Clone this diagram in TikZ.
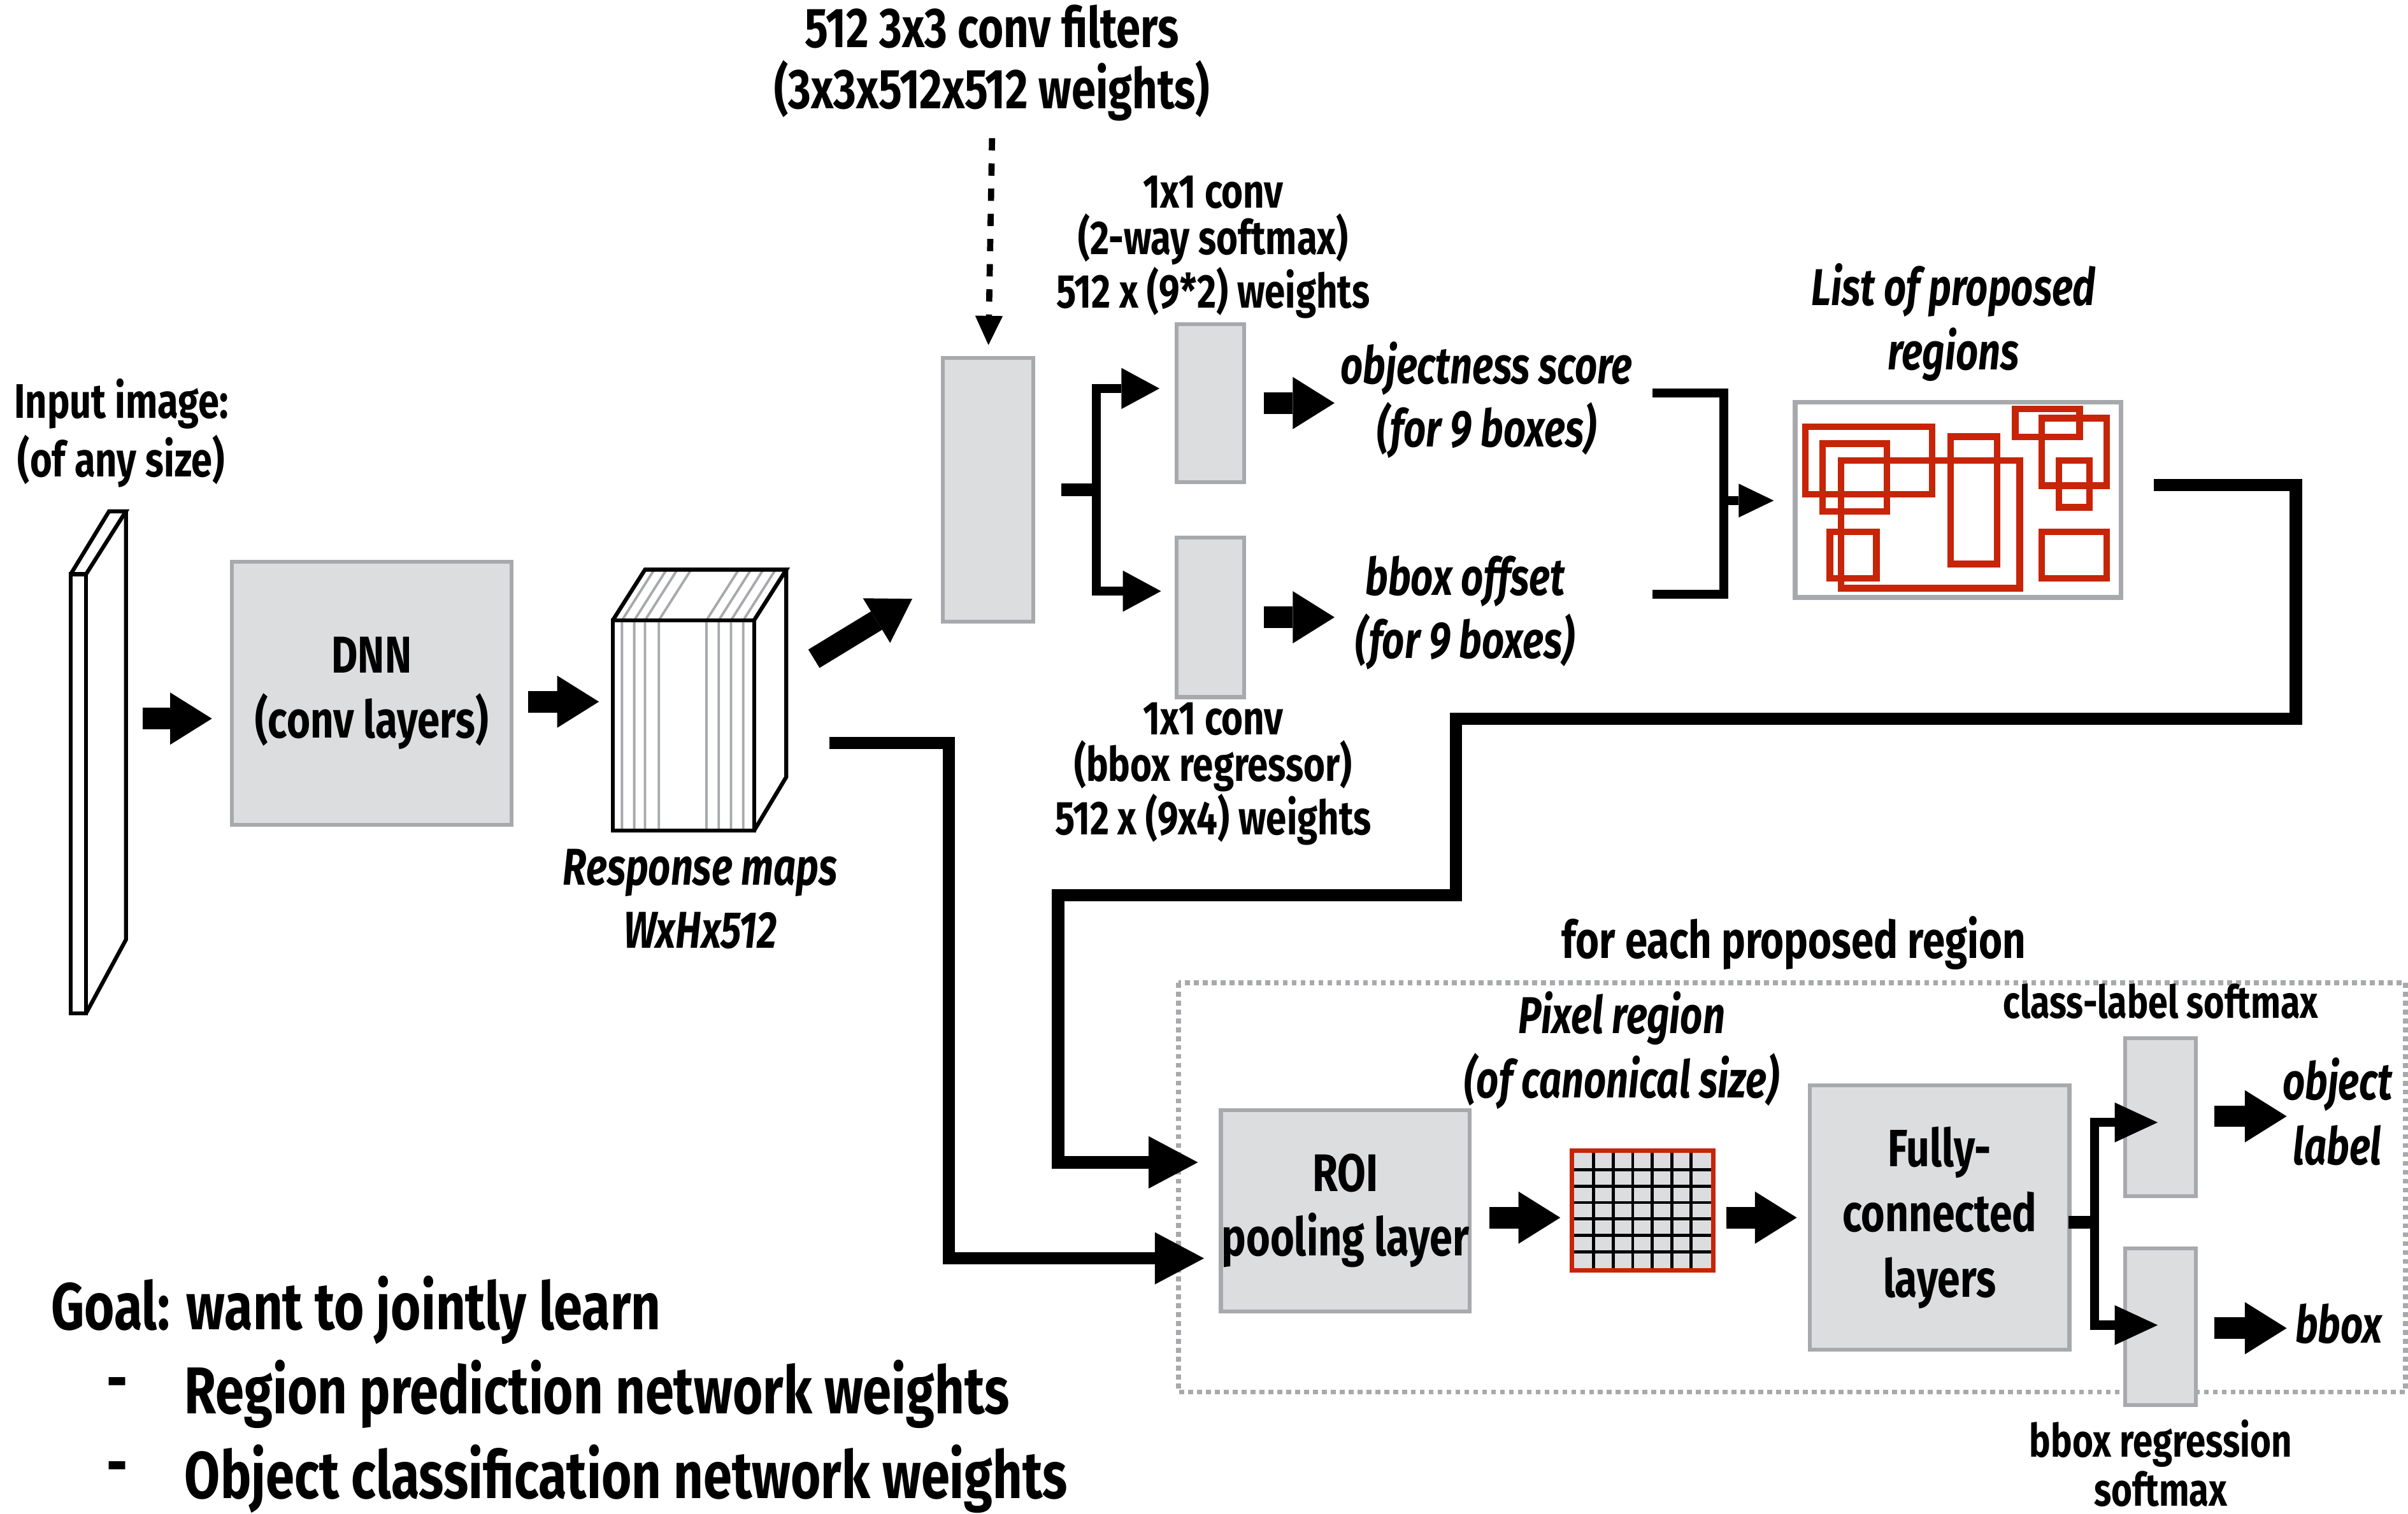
\documentclass[tikz,border=0pt]{standalone}
\usepackage{fontspec}
\setmainfont{Fira Sans}[UprightFont=* Bold, ItalicFont=* Bold Italic,
  UprightFeatures={FakeStretch=0.78}, ItalicFeatures={FakeStretch=0.755}]
\usetikzlibrary{arrows.meta}
\definecolor{boxfill}{RGB}{220,221,222}
\definecolor{boxline}{RGB}{167,169,172}
\definecolor{regred}{RGB}{199,36,8}
\newcommand{\fsz}[2]{\fontsize{#1}{#2}\selectfont}

\begin{document}
\begin{tikzpicture}[x=0.025cm,y=-0.025cm,
  gbox/.style={draw=boxline, fill=boxfill, line width=1.8pt, inner sep=0pt, align=center},
  bigarrow/.style={line width=0.35cm, -{Triangle[length=0.68cm,width=0.85cm,line width=0pt]}},
  thinarrow/.style={line width=0.15cm, -{Triangle[length=0.62cm,width=0.67cm,line width=0pt]}},
  tinyarrow/.style={line width=0.14cm, -{Triangle[length=0.57cm,width=0.55cm,line width=0pt]}},
  wirearrow/.style={line width=0.2cm, -{Triangle[length=0.8cm,width=0.85cm,line width=0pt]}},
  lbl/.style={align=center, inner sep=0pt},
  edge3d/.style={line width=0.065cm, line join=miter},
  slice/.style={draw=boxline, line width=0.04cm},
  regbox/.style={draw=regred, line width=0.108cm}
]
\useasboundingbox (0,0) rectangle (1568,986);

% ---------- input image slab ----------
\fill[white] (46,374) rectangle (56,660);
\fill[white] (46,374) -- (71,333) -- (82,333) -- (56,374) -- cycle;
\fill[white] (56,374) -- (82,333) -- (82,612) -- (56,660) -- cycle;
\draw[edge3d] (46,374) rectangle (56,660);
\draw[edge3d] (46,374) -- (71,333) -- (82,333) -- (56,374);
\draw[edge3d] (82,333) -- (82,612) -- (56,660);
\coordinate (img) at (64,496);
\node[lbl, font=\fsz{22.5}{27}] (tIn) at (79,282) {Input image:\\(of any size)};

% ---------- backbone ----------
\node[gbox, minimum width=4.55cm, minimum height=4.275cm, font=\fsz{24}{30}] (dnn) at (242,451.5) {DNN\\(conv layers)};
\coordinate (a1s) at (93,468);  \coordinate (a1e) at (138,468);
\draw[bigarrow] (a1s) -- (a1e);
\coordinate (a2s) at (344,457); \coordinate (a2e) at (390,457);
\draw[bigarrow] (a2s) -- (a2e);

% ---------- response maps cube ----------
\fill[white] (399,404) rectangle (491,541);
\fill[white] (399,404) -- (420,371) -- (512,371) -- (491,404) -- cycle;
\fill[white] (491,404) -- (512,371) -- (512,506) -- (491,541) -- cycle;
\foreach \x in {405,413,420,429,460,468,476,484}
  \draw[slice] (\x,541) -- (\x,404) -- ++(21,-33);
\draw[edge3d] (399,404) rectangle (491,541);
\draw[edge3d] (399,404) -- (420,371) -- (512,371) -- (491,404);
\draw[edge3d] (512,371) -- (512,506) -- (491,541);
\coordinate (cube) at (455,456);
\node[lbl, font=\fsz{24}{29}\itshape] (tResp) at (456,585.5) {Response maps\\WxHx512};

% ---------- region proposal network ----------
\node[lbl, font=\fsz{26}{28.5}] (tTop) at (646,41) {512 3x3 conv filters\\(3x3x512x512 weights)};
\node[gbox, minimum width=1.475cm, minimum height=4.3cm] (conv) at (643.5,319) {};
\draw[line width=0.1cm, dash pattern=on 0.2cm off 0.21cm,
      -{Triangle[length=0.475cm,width=0.45cm,line width=0pt]}, shorten >=0.175cm]
  (646,90) -- (conv.north);
\coordinate (a3s) at (530,429); \coordinate (a3e) at (594,390);
\draw[bigarrow] (a3s) -- (a3e);

\node[gbox, minimum width=1.1cm, minimum height=2.575cm] (s1) at (788,262.5) {};
\node[gbox, minimum width=1.1cm, minimum height=2.6cm] (s2) at (788,402) {};
\node[lbl, font=\fsz{22}{21.7}] (tRpn1) at (790,161) {1x1 conv\\(2-way softmax)\\512 x (9*2) weights};
\node[lbl, font=\fsz{22}{21.7}] (tRpn2) at (790,504) {1x1 conv\\(bbox regressor)\\512 x (9x4) weights};

% split from the 3x3 conv into the two 1x1 convs
\coordinate (split) at (714,319);
\draw[line width=0.2cm] (691,319) -- (split);
\draw[thinarrow] (split) |- (755,253);
\draw[thinarrow] (split) |- (756,385);

\coordinate (a4s) at (823,262.5); \coordinate (a4e) at (869,262.5);
\draw[bigarrow] (a4s) -- (a4e);
\coordinate (a5s) at (823,402); \coordinate (a5e) at (869,402);
\draw[bigarrow] (a5s) -- (a5e);
\node[lbl, font=\fsz{24}{29.2}\itshape] (tObj) at (968,260.5) {objectness score\\(for 9 boxes)};
\node[lbl, font=\fsz{24}{29.2}\itshape] (tOff) at (954,399) {bbox offset\\(for 9 boxes)};

% merge bracket
\draw[line width=0.15cm] (1076,256) -- (1122.5,256) -- (1122.5,387) -- (1076,387);
\draw[tinyarrow] (1122.5,326) -- (1155,326);

% ---------- proposed regions ----------
\node[lbl, font=\fsz{24}{30}\itshape] (tList) at (1272,210) {List of proposed\\regions};
\node[draw=boxline, fill=white, line width=2.2pt, minimum width=5.3cm, minimum height=3.175cm, inner sep=0pt] (regions) at (1275,325.5) {};
\draw[regbox] (1175.6,278) rectangle (1258.2,322);
\draw[regbox] (1186.8,289) rectangle (1228.7,333);
\draw[regbox] (1198.8,300) rectangle (1315.2,383);
\draw[regbox] (1270.2,284.4) rectangle (1300.4,367.3);
\draw[regbox] (1312.2,266.2) rectangle (1354.2,284.5);
\draw[regbox] (1329.5,272.3) rectangle (1371.7,316.3);
\draw[regbox] (1340.6,300) rectangle (1360.6,330.4);
\draw[regbox] (1329.5,346.3) rectangle (1371.7,376.6);
\draw[regbox] (1191.5,346.3) rectangle (1221.8,376.6);

% ---------- per-region classification stage ----------
\draw[boxline, line width=0.078cm, dash pattern=on 0.08cm off 0.065cm] (767.5,640) rectangle (1566.3,906.5);
\node[lbl, font=\fsz{24}{28}] (tFor) at (1168,614) {for each proposed region};

\node[gbox, minimum width=4.05cm, minimum height=3.275cm, font=\fsz{24.5}{30}] (roi) at (876,788.5) {ROI\\pooling layer};
\node[lbl, font=\fsz{24}{30}\itshape] (tPix) at (1056,684) {Pixel region\\(of canonical size)};

% pooled pixel grid
\coordinate (pix) at (1069.5,788.5);
\fill[boxfill] (1023.5,749.5) rectangle (1115.5,827.5);
\foreach \i in {1,...,6} {
  \draw[line width=0.05cm] ({1025+\i*12.71},751) -- ++(0,75);
  \draw[line width=0.05cm] (1025,{751+\i*10.71}) -- ++(89,0);
}
\draw[regred, line width=0.075cm] (1023.5,749.5) rectangle (1115.5,827.5);

\node[gbox, minimum width=4.225cm, minimum height=4.3cm, font=\fsz{24.3}{30.2}] (fc) at (1263,793) {Fully-\\connected\\layers};

\coordinate (a6s) at (970,793);  \coordinate (a6e) at (1016,793);
\draw[bigarrow] (a6s) -- (a6e);
\coordinate (a7s) at (1124,793); \coordinate (a7e) at (1170,793);
\draw[bigarrow] (a7s) -- (a7e);

\node[gbox, minimum width=1.15cm, minimum height=2.575cm] (c1) at (1407,727.5) {};
\node[gbox, minimum width=1.15cm, minimum height=2.55cm] (c2) at (1407,864) {};
\node[lbl, font=\fsz{21}{24}] (tCls) at (1407,652) {class-label softmax};
\node[lbl, font=\fsz{21.3}{22.8}] (tReg) at (1407,953) {bbox regression\\softmax};

\coordinate (fsplit) at (1364,796);
\draw[line width=0.2cm] (1347,796) -- (fsplit);
\draw[thinarrow, -{Triangle[length=0.7cm,width=0.65cm,line width=0pt]}] (fsplit) |- (1405,731);
\draw[thinarrow, -{Triangle[length=0.7cm,width=0.65cm,line width=0pt]}] (fsplit) |- (1405,863);

\coordinate (a8s) at (1442,727); \coordinate (a8e) at (1489,727);
\draw[bigarrow] (a8s) -- (a8e);
\coordinate (a9s) at (1442,865); \coordinate (a9e) at (1489,865);
\draw[bigarrow] (a9s) -- (a9e);
\node[lbl, font=\fsz{24}{30}\itshape] (tObjl) at (1522,724) {object\\label};
\node[lbl, font=\fsz{24}{30}\itshape] (tBbox) at (1523,862) {bbox};

% ---------- long connectors into ROI pooling ----------
\draw[wirearrow] ([xshift=0.5cm, yshift=0.2375cm]regions.east) -| (1495,468) -| (948,583) -| (689,757) -- (780,757);
\draw[wirearrow] (540,484) -| (618,819.5) -- (784,819.5);

% ---------- goal text ----------
\node[anchor=west, inner sep=0pt, font=\fsz{30.7}{39}] (tGoal) at (33,853) {Goal: want to jointly learn};
\node[anchor=west, inner sep=0pt, font=\fsz{30.7}{39}] (tD1) at (69,905) {-};
\node[anchor=west, inner sep=0pt, font=\fsz{30.7}{39}] (tG1) at (120,908) {Region prediction network weights};
\node[anchor=west, inner sep=0pt, font=\fsz{30.7}{39}] (tD2) at (69,960) {-};
\node[anchor=west, inner sep=0pt, font=\fsz{30.7}{39}] (tG2) at (120,963) {Object classification network weights};
\end{tikzpicture}
\end{document}
